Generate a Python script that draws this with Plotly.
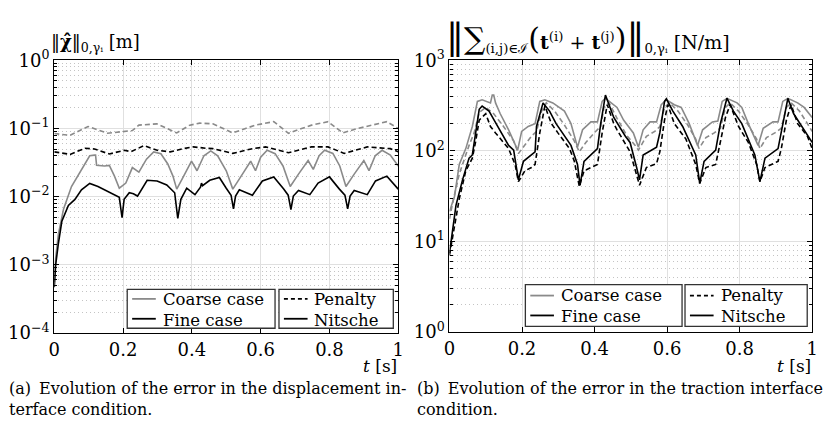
import plotly.graph_objects as go

W, H = 828, 431
FONT = "DejaVu Serif"
GREY = "#8a8a8a"
BLACK = "#000000"

# ---------------- (a) displacement interface error  ||chi||_{0,gamma_i}  [m] ----------------
t_a_coarse_pen = [0, 0.046, 0.098, 0.155, 0.227, 0.246, 0.298, 0.356, 0.394, 0.423, 0.461, 0.519,
                  0.556, 0.585, 0.638, 0.681, 0.719, 0.748, 0.796, 0.839, 0.882, 0.92, 0.967, 1.0]
a_coarse_pen = [0.0843, 0.0794, 0.107, 0.0851, 0.0933, 0.112, 0.117, 0.0861, 0.112, 0.120, 0.117, 0.0861,
                0.100, 0.112, 0.126, 0.0851, 0.100, 0.112, 0.126, 0.0861, 0.100, 0.112, 0.126, 0.100]

t_a_fine_pen = [0, 0.046, 0.089, 0.117, 0.16, 0.203, 0.223, 0.261, 0.299, 0.337, 0.375, 0.404,
                0.441, 0.461, 0.519, 0.576, 0.614, 0.681, 0.748, 0.796, 0.843, 0.91, 0.977, 1.0]
a_fine_pen = [0.0454, 0.0417, 0.0513, 0.0501, 0.0422, 0.0479, 0.0457, 0.0562, 0.0479, 0.0454, 0.0506, 0.0537,
              0.0513, 0.0506, 0.0431, 0.0506, 0.0537, 0.0440, 0.0537, 0.0537, 0.0431, 0.0537, 0.0506, 0.0454]

t_a_coarse_nit = [0, 0.004, 0.012, 0.027, 0.05, 0.079, 0.095, 0.103, 0.117, 0.12,
                  0.123, 0.146, 0.16, 0.175, 0.189, 0.208, 0.227, 0.246, 0.268, 0.289,
                  0.31, 0.33, 0.345, 0.356, 0.375, 0.399, 0.415, 0.435, 0.455, 0.475,
                  0.50, 0.519, 0.547, 0.571, 0.585, 0.60, 0.619, 0.642, 0.665, 0.686,
                  0.71, 0.738, 0.753, 0.77, 0.786, 0.81, 0.83, 0.848, 0.872, 0.90,
                  0.915, 0.933, 0.953, 0.977, 1.0]
a_coarse_nit = [5.62e-4, 1.26e-3, 2.82e-3, 6.61e-3, 0.0141, 0.0251, 0.0355, 0.0398, 0.0407, 0.0407,
                0.0288, 0.0282, 0.0288, 0.0200, 0.0133, 0.0158, 0.0267, 0.0229, 0.0355, 0.0454,
                0.0427, 0.0302, 0.0200, 0.0129, 0.0195, 0.0331, 0.0240, 0.0398, 0.0468, 0.0398,
                0.0240, 0.0129, 0.0214, 0.0331, 0.0240, 0.0380, 0.0479, 0.0427, 0.0282, 0.0141,
                0.0214, 0.0339, 0.0251, 0.0398, 0.0479, 0.0431, 0.0282, 0.0141, 0.0214, 0.0339,
                0.0240, 0.0398, 0.0479, 0.0407, 0.0282]

t_a_fine_nit = [0, 0.004, 0.012, 0.022, 0.041, 0.06, 0.079, 0.103, 0.127, 0.15,
                0.175, 0.189, 0.197, 0.203, 0.218, 0.23, 0.242, 0.27, 0.299, 0.327,
                0.35, 0.359, 0.368, 0.385, 0.409, 0.425, 0.428, 0.431, 0.452, 0.48,
                0.50, 0.514, 0.521, 0.527, 0.538, 0.576, 0.605, 0.638, 0.667, 0.680,
                0.688, 0.695, 0.71, 0.743, 0.767, 0.80, 0.829, 0.845, 0.853, 0.860,
                0.872, 0.91, 0.934, 0.967, 1.0]
a_fine_nit = [4.68e-4, 1.0e-3, 2.07e-3, 4.37e-3, 7.41e-3, 9.12e-3, 0.0126, 0.0156, 0.0141, 0.0123,
              0.0107, 9.77e-3, 4.90e-3, 9.12e-3, 0.0114, 0.0110, 0.0102, 0.0174, 0.0170, 0.0148,
              0.0114, 4.79e-3, 9.12e-3, 0.0133, 0.0107, 0.0138, 0.0158, 0.0145, 0.0174, 0.0191,
              0.0133, 0.0105, 6.61e-3, 0.0102, 0.0126, 0.0105, 0.0170, 0.0195, 0.0129, 0.0105,
              6.46e-3, 0.0102, 0.0123, 0.0107, 0.0158, 0.0195, 0.0129, 0.0105, 6.61e-3, 0.0102,
              0.0123, 0.0107, 0.0170, 0.0200, 0.0129]

# ---------------- (b) traction interface error  [N/m] ----------------
t_b_coarse_pen = [0, 0.009, 0.027, 0.054, 0.068, 0.082, 0.1, 0.122, 0.149, 0.177,
                  0.19, 0.208, 0.226, 0.24, 0.254, 0.267, 0.29, 0.317, 0.344, 0.358,
                  0.376, 0.399, 0.417, 0.426, 0.44, 0.462, 0.489, 0.512, 0.521, 0.543,
                  0.566, 0.58, 0.593, 0.607, 0.63, 0.657, 0.679, 0.688, 0.707, 0.73,
                  0.747, 0.761, 0.774, 0.797, 0.824, 0.847, 0.856, 0.874, 0.897, 0.915,
                  0.929, 0.942, 0.965, 0.987, 1.0]
b_coarse_pen = [17.8, 26.9, 55.6, 115, 158, 266, 302, 257, 186, 129,
                93.3, 115, 145, 164, 275, 339, 275, 193, 129, 97.7,
                124, 158, 186, 302, 339, 229, 148, 115, 102, 145,
                164, 186, 302, 339, 275, 193, 135, 106, 140, 158,
                178, 302, 339, 275, 193, 135, 106, 140, 158, 178,
                302, 339, 275, 200, 164]

t_b_fine_pen = [0, 0.027, 0.045, 0.063, 0.072, 0.082, 0.1, 0.113, 0.127, 0.163,
                0.181, 0.19, 0.208, 0.226, 0.236, 0.249, 0.263, 0.281, 0.299, 0.331,
                0.344, 0.358, 0.371, 0.39, 0.408, 0.421, 0.435, 0.453, 0.462, 0.498,
                0.512, 0.524, 0.543, 0.571, 0.58, 0.593, 0.602, 0.62, 0.652, 0.679,
                0.69, 0.707, 0.734, 0.743, 0.761, 0.774, 0.797, 0.824, 0.847, 0.856,
                0.87, 0.906, 0.915, 0.929, 0.942, 0.96, 0.987, 1.0]
b_fine_pen = [7.08, 29.5, 60.3, 83.2, 126, 219, 257, 186, 158, 106,
              70.8, 45.7, 60.3, 65.5, 70.8, 158, 313, 200, 158, 106,
              77.6, 40.5, 60.3, 65.5, 70.8, 158, 324, 200, 171, 97.7,
              60.3, 41.7, 65.5, 72.4, 97.7, 219, 324, 200, 135, 70.8,
              43.7, 65.5, 70.8, 106, 234, 324, 186, 124, 70.8, 45.7,
              65.5, 76.7, 106, 219, 324, 200, 145, 106]

t_b_coarse_nit = [0, 0.014, 0.027, 0.045, 0.063, 0.077, 0.09, 0.113, 0.118, 0.122,
                  0.127, 0.14, 0.163, 0.181, 0.188, 0.199, 0.217, 0.236, 0.249, 0.263,
                  0.285, 0.317, 0.335, 0.353, 0.367, 0.39, 0.408, 0.421, 0.43, 0.462,
                  0.48, 0.507, 0.521, 0.534, 0.553, 0.571, 0.584, 0.598, 0.62, 0.639,
                  0.661, 0.684, 0.698, 0.725, 0.74, 0.752, 0.765, 0.793, 0.806, 0.824,
                  0.851, 0.865, 0.892, 0.906, 0.919, 0.933, 0.96, 0.978, 1.0]
b_coarse_nit = [21.4, 31.6, 70.8, 106, 186, 352, 367, 339, 414, 414,
                339, 257, 171, 119, 102, 164, 186, 200, 352, 367,
                339, 275, 200, 110, 171, 209, 209, 352, 380, 302,
                219, 158, 110, 171, 209, 209, 324, 367, 324, 302,
                200, 115, 171, 209, 214, 352, 380, 339, 302, 200,
                115, 178, 209, 209, 352, 380, 339, 302, 234]

t_b_fine_nit = [0, 0.018, 0.036, 0.054, 0.063, 0.072, 0.082, 0.09, 0.109, 0.131,
                0.163, 0.177, 0.19, 0.204, 0.236, 0.24, 0.258, 0.276, 0.294, 0.335,
                0.353, 0.36, 0.371, 0.408, 0.417, 0.43, 0.453, 0.485, 0.498, 0.516,
                0.524, 0.534, 0.571, 0.58, 0.593, 0.598, 0.616, 0.643, 0.679, 0.69,
                0.702, 0.734, 0.747, 0.765, 0.783, 0.806, 0.842, 0.856, 0.87, 0.906,
                0.919, 0.933, 0.949, 1.0]
b_fine_nit = [7.41, 25.1, 47.9, 83.2, 90.2, 158, 288, 313, 275, 193,
              115, 102, 47.9, 76.7, 97.7, 186, 339, 275, 200, 115,
              70.8, 41.7, 76.7, 106, 200, 414, 234, 145, 124, 65.5,
              47.9, 90.2, 110, 158, 352, 376, 275, 186, 90.2, 43.7,
              76.7, 102, 200, 382, 275, 200, 90.2, 45.7, 83.2, 106,
              200, 380, 257, 124]

x_ticks = [0, 0.2, 0.4, 0.6, 0.8, 1]
x_ticktext = ["0", "0.2", "0.4", "0.6", "0.8", "1"]
a_decades = [-4, -3, -2, -1, 0]
b_decades = [0, 1, 2, 3]


def px(x):
    return x / W


def py(y):
    return 1 - y / H


def sup_label(e):
    return "10<sup>" + (str(e) if e >= 0 else "\u2212" + str(-e)) + "</sup>"


fig = go.Figure()

series = [
    ("x", "y", t_a_coarse_pen, a_coarse_pen, GREY, "5px,3px"),
    ("x", "y", t_a_coarse_nit, a_coarse_nit, GREY, "solid"),
    ("x", "y", t_a_fine_pen, a_fine_pen, BLACK, "5px,3px"),
    ("x", "y", t_a_fine_nit, a_fine_nit, BLACK, "solid"),
    ("x2", "y2", t_b_coarse_pen, b_coarse_pen, GREY, "5px,3px"),
    ("x2", "y2", t_b_coarse_nit, b_coarse_nit, GREY, "solid"),
    ("x2", "y2", t_b_fine_pen, b_fine_pen, BLACK, "5px,3px"),
    ("x2", "y2", t_b_fine_nit, b_fine_nit, BLACK, "solid"),
]
for xa, ya, t, v, col, dash in series:
    fig.add_trace(go.Scatter(x=t, y=v, xaxis=xa, yaxis=ya, mode="lines",
                             line=dict(color=col, width=1.6, dash=dash),
                             showlegend=False, hoverinfo="skip"))

tickfont = dict(family=FONT, size=18, color="black")
xcommon = dict(range=[0, 1], tickvals=x_ticks, ticktext=x_ticktext, ticks="inside", ticklen=5,
               tickcolor="black", showline=True, linecolor="black", linewidth=1.3, mirror="ticks",
               showgrid=True, gridcolor="#e0e0e0", gridwidth=1, zeroline=False, tickfont=tickfont)


def ycommon(decades):
    minor_vals = [m * 10.0 ** e for e in decades[:-1] for m in range(2, 10)]
    return dict(type="log", range=[decades[0], decades[-1]],
                tickvals=[10.0 ** e for e in decades], ticktext=[sup_label(e) for e in decades],
                ticks="inside", ticklen=5, tickcolor="black", showline=True, linecolor="black",
                linewidth=1.3, mirror="ticks", showgrid=True, gridcolor="#e0e0e0", gridwidth=1,
                zeroline=False, tickfont=tickfont,
                minor=dict(tickvals=minor_vals, ticks="inside", ticklen=3, tickcolor="black",
                           showgrid=True, gridcolor="#c4c4c4", griddash="1px,3px", gridwidth=1))


fig.update_layout(
    width=W, height=H, margin=dict(l=0, r=0, t=0, b=0),
    paper_bgcolor="white", plot_bgcolor="white",
    font=dict(family=FONT, size=17, color="black"),
    xaxis=dict(domain=[px(49), px(398)], anchor="y", **xcommon),
    yaxis=dict(domain=[py(338), py(50)], anchor="x", **ycommon(a_decades)),
    xaxis2=dict(domain=[px(450), px(818)], anchor="y2", **xcommon),
    yaxis2=dict(domain=[py(337), py(50)], anchor="x2", **ycommon(b_decades)),
)

annotations = [
    dict(x=px(44), y=py(32), xanchor="left", yanchor="middle",
         text="\u2016<b>\u03c7\u0302</b>\u2016<sub>0,\u03b3\u1d62</sub> [m]", font=dict(size=18)),
    dict(x=px(444), y=py(25), xanchor="left", yanchor="middle",
         text="<span style='font-size:36px'>\u2016</span><span style='font-size:30px'>\u2211</span>"
              "<sub>(i,j)\u2208\u2110</sub><span style='font-size:30px'>(</span><b>t</b><sup>(i)</sup>"
              " + <b>t</b><sup>(j)</sup><span style='font-size:30px'>)</span>"
              "<span style='font-size:36px'>\u2016</span><sub>0,\u03b3\u1d62</sub> [N/m]",
         font=dict(size=19)),
    dict(x=px(399), y=py(373), xanchor="right", yanchor="middle", text="<i>t</i> [s]",
         font=dict(size=17)),
    dict(x=px(819), y=py(373), xanchor="right", yanchor="middle", text="<i>t</i> [s]",
         font=dict(size=17)),
    dict(x=px(1), y=py(384), xanchor="left", yanchor="top", align="left",
         text="(a)\u2002Evolution of the error in the displacement in-<br>terface condition.",
         font=dict(size=16)),
    dict(x=px(415), y=py(384), xanchor="left", yanchor="top", align="left",
         text="(b)\u2002Evolution of the error in the traction interface<br>condition.",
         font=dict(size=16)),
]

shapes = []


def legend_box(x0, x1, y0, y1, rows):
    """Framed two-row key: line samples as shapes, labels as one two-line text."""
    shapes.append(dict(type="rect", xref="paper", yref="paper", x0=px(x0), x1=px(x1),
                       y0=py(y1), y1=py(y0), line=dict(color="#333333", width=1.3),
                       fillcolor="white", layer="above"))
    yc = (y0 + y1) / 2
    row_y = [yc - 10.5, yc + 10.5]
    for ly, (label, col, dash) in zip(row_y, rows):
        shapes.append(dict(type="line", xref="paper", yref="paper", x0=px(x0 + 5), x1=px(x0 + 29),
                           y0=py(ly), y1=py(ly), line=dict(color=col, width=1.8, dash=dash),
                           layer="above"))
    annotations.append(dict(x=px(x0 + 34), y=py(yc + 1), xanchor="left", yanchor="middle",
                            align="left", text="<br>".join(r[0] for r in rows),
                            font=dict(size=16.5)))


legend_box(123, 273, 292, 333, [("Coarse case", GREY, "solid"), ("Fine case", BLACK, "solid")])
legend_box(277, 393, 292, 333, [("Penalty", BLACK, "4px,3px"), ("Nitsche", BLACK, "solid")])
legend_box(527, 686, 287, 331, [("Coarse case", GREY, "solid"), ("Fine case", BLACK, "solid")])
legend_box(689, 813, 287, 331, [("Penalty", BLACK, "4px,3px"), ("Nitsche", BLACK, "solid")])

for a in annotations:
    a.setdefault("xref", "paper")
    a.setdefault("yref", "paper")
    a.setdefault("showarrow", False)

fig.update_layout(annotations=annotations, shapes=shapes)

fig.write_html("out.html")
